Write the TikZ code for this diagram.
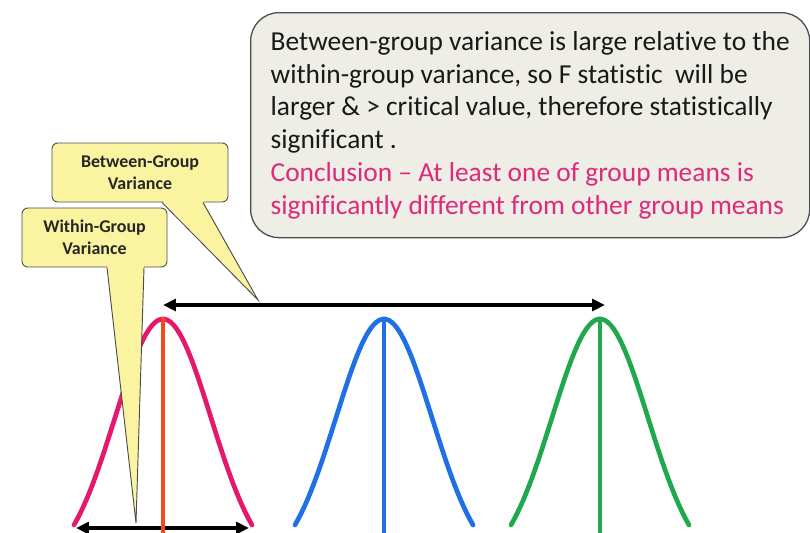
\documentclass[tikz,border=0pt]{standalone}
\usepackage{fontspec}
\setmainfont{Carlito}[Ligatures={NoCommon}]
\usepackage{tikz}
\usetikzlibrary{arrows.meta,calc}
\definecolor{boxfill}{HTML}{EEEDE6}
\definecolor{boxline}{HTML}{4D4D4D}
\definecolor{callfill}{HTML}{FAF4A0}
\definecolor{concl}{HTML}{DD2A7B}
\definecolor{grp1}{HTML}{E5186E}
\definecolor{mean1}{HTML}{F24A1F}
\definecolor{grp2}{HTML}{1F6FE5}
\definecolor{grp3}{HTML}{20A84E}

\begin{document}
\begin{tikzpicture}[x=0.03cm, y=-0.03cm,
    bell/.style={line width=4pt, line cap=round},
    meanline/.style={line width=4pt},
    spanarr/.style={{Triangle[length=11pt,width=10pt]}-{Triangle[length=11pt,width=10pt]}, line width=2.8pt},
    tagbox/.style={draw=boxline, fill=callfill, rounded corners=5pt, line width=0.8pt,
                   align=center, font=\fontsize{15.3}{18.5}\selectfont\bfseries, text=black!85},
    ptr/.style={draw=boxline, line width=0.8pt},
    note/.style={draw=boxline, fill=boxfill, rounded corners=0.85cm, line width=1.1pt,
                 anchor=north west, minimum width=16.77cm, minimum height=6.75cm,
                 align=left, font=\fontsize{23.4}{28}\selectfont, text=black!90},
  ]
  \useasboundingbox (0,0) rectangle (810,533);

  % Summary box, top right
  \node[note] (summary) at (250,12) {Between-group variance is large relative to the\\
    within-group variance, so F statistic\ \ will be\\
    larger \& > critical value, therefore statistically\\
    significant .\\
    \textcolor{concl}{Conclusion -- At least one of group means is}\\
    \textcolor{concl}{significantly different from other group means}};

  % Three bell curves with their mean lines
  \foreach \cx/\col/\mcol/\n in {163/grp1/mean1/1, 384/grp2/grp2/2, 600/grp3/grp3/3} {
    \coordinate (pk\n) at (\cx,317);
    \coordinate (ft\n) at (\cx,533);
    \draw[bell, \col] plot[domain=-89:89, samples=60]
      ({\cx+\x}, {525-206*(exp(-\x*\x/4608)-0.1792)/0.8208});
    \draw[meanline, \mcol] (pk\n) -- (ft\n);
  }

  % Spread arrows
  \coordinate (btwL) at (163,305);
  \coordinate (btwR) at (605,305);
  \coordinate (wthL) at (76,528);
  \coordinate (wthR) at (249,528);
  \draw[spanarr] (btwL) -- (btwR);
  \draw[spanarr] (wthL) -- (wthR);
  \draw[meanline, mean1] ($(pk1)+(0,205)$) -- (ft1);

  % Callout: between-group
  \node[tagbox, minimum width=5.28cm, minimum height=1.77cm] (btwbox) at (140,172.5)
    {Between-Group\\Variance};
  \coordinate (btwtip) at (258,300);
  \fill[callfill] ($(btwbox.south)+(22,-2)$) -- (btwtip) -- ($(btwbox.south)+(63,-2)$) -- cycle;
  \draw[ptr] ($(btwbox.south)+(22,0)$) -- (btwtip) -- ($(btwbox.south)+(63,0)$);

  % Callout: within-group
  \node[tagbox, minimum width=4.35cm, minimum height=1.77cm] (wthbox) at (94.5,237.5)
    {Within-Group\\Variance};
  \coordinate (wthtip) at (136,523);
  \fill[callfill] ($(wthbox.south)+(12.5,-2)$) -- (wthtip) -- ($(wthbox.south)+(49.5,-2)$) -- cycle;
  \draw[ptr] ($(wthbox.south)+(12.5,0)$) -- (wthtip) -- ($(wthbox.south)+(49.5,0)$);
\end{tikzpicture}
\end{document}
